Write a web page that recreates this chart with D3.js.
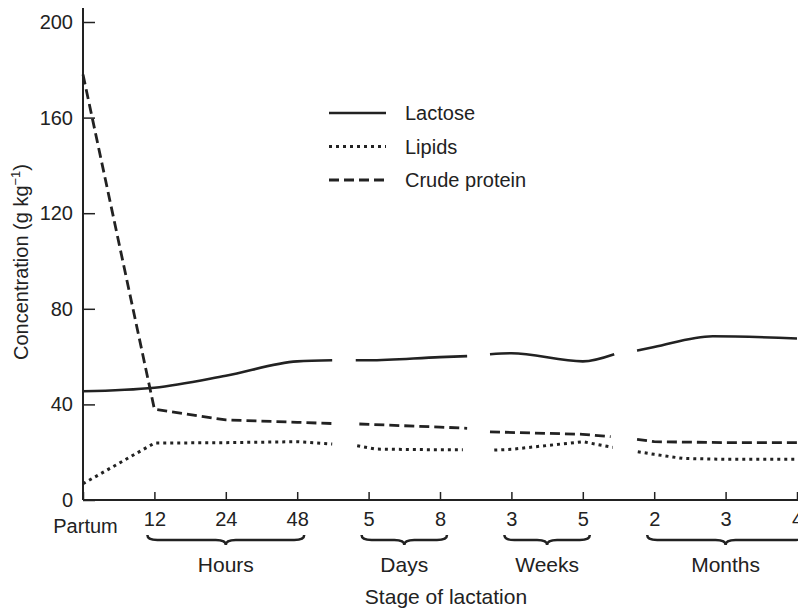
<!DOCTYPE html>
<html>
<head>
<meta charset="utf-8">
<script src="https://cdn.jsdelivr.net/npm/d3@7"></script>
<style>
  body { margin: 0; background: #fff; }
  text { font-family: "Liberation Sans", Arial, sans-serif; fill: #222; }
</style>
</head>
<body>
<script>
// DATA
var categories = ["Partum", "12", "24", "48", "5", "8", "3", "5", "2", "3", "4"];
var groupNames = ["Hours", "Days", "Weeks", "Months"];
var groupSpans = [[1, 3], [4, 5], [6, 7], [8, 10]];
var yTicks = [0, 40, 80, 120, 160, 200];
var seriesNames = ["Lactose", "Lipids", "Crude protein"];

// each series is a list of broken segments: [category position, g/kg]
var lactose = [
    [[0, 45.5], [1, 47], [2, 52], [3, 58], [3.49, 58.5]],
    [[3.82, 58.5], [4, 58.5], [5, 59.8], [5.38, 60.2]],
    [[5.70, 61], [6, 61.4], [7, 58], [7.44, 61]],
    [[7.76, 62.5], [8, 64], [8.82, 68.5], [10, 67.6]]
];
var lipids = [
    [[0, 6.8], [1, 23.8], [2, 24], [3, 24.4], [3.49, 23.4]],
    [[3.84, 22.7], [4.1, 21.3], [5, 21], [5.32, 21]],
    [[5.76, 20.9], [6, 21.2], [7, 24.4], [7.42, 22]],
    [[7.77, 20.2], [8, 19.1], [8.4, 17.4], [9, 17], [10, 17]]
];
var crudeProtein = [
    [[0, 178], [1, 38], [2, 33.5], [3, 32.5], [3.49, 32]],
    [[3.87, 31.8], [5, 30.5], [5.38, 30]],
    [[5.70, 28.5], [7, 27.5], [7.39, 26.5]],
    [[7.76, 25.4], [8, 24.4], [9, 24], [10, 24]]
];

// D3
var svg = d3.select("body")
    .append("svg")
    .attr("width", 798)
    .attr("height", 610);

const margin = {top: 22, left: 83, bottom: 110};
const plotW = 714;

const xScale = d3.scaleLinear()
    .domain([0, categories.length - 1])
    .range([margin.left, margin.left + plotW]);

const yScale = d3.scaleLinear()
    .domain([0, 200])
    .range([500, margin.top]);

const ink = "#222";

// y axis
const yAx = svg.append("g")
    .attr("transform", "translate(" + margin.left + ",0)")
    .call(d3.axisLeft(yScale).tickValues(yTicks).tickSizeInner(-12).tickSizeOuter(0).tickPadding(10));
yAx.select(".domain").remove();
yAx.selectAll("line").attr("stroke", ink).attr("stroke-width", 1.5);
yAx.selectAll("text").attr("font-size", 20).style("font-family", "Liberation Sans, Arial, sans-serif").attr("fill", ink);
svg.append("line")
    .attr("x1", margin.left).attr("x2", margin.left)
    .attr("y1", 500).attr("y2", 8)
    .attr("stroke", ink).attr("stroke-width", 2);

// x axis
const xAx = svg.append("g")
    .attr("transform", "translate(0,500)")
    .call(d3.axisBottom(xScale).tickValues(d3.range(categories.length))
        .tickFormat(function(i){ return categories[i]; })
        .tickSizeInner(-8).tickSizeOuter(0).tickPadding(12));
xAx.select(".domain").attr("stroke", ink).attr("stroke-width", 2)
    .attr("d", "M" + margin.left + ",0H798");
xAx.selectAll("line").attr("stroke", ink).attr("stroke-width", 1.5);
xAx.selectAll("text").attr("font-size", 20).style("font-family", "Liberation Sans, Arial, sans-serif").attr("fill", ink);
xAx.selectAll(".tick").filter(function(d){ return d === 0; })
    .select("text").attr("dx", 2).attr("y", 19);

// group braces
function brace(x0, x1, y0) {
    var xm = (x0 + x1) / 2, h = 5;
    return "M" + x0 + "," + y0 +
        " Q" + x0 + "," + (y0 + h) + " " + (x0 + 2 * h) + "," + (y0 + h) +
        " L" + (xm - 2 * h) + "," + (y0 + h) +
        " Q" + xm + "," + (y0 + h) + " " + xm + "," + (y0 + 2 * h) +
        " Q" + xm + "," + (y0 + h) + " " + (xm + 2 * h) + "," + (y0 + h) +
        " L" + (x1 - 2 * h) + "," + (y0 + h) +
        " Q" + x1 + "," + (y0 + h) + " " + x1 + "," + y0;
}
svg.selectAll(".brace").data(groupSpans)
    .enter().append("path")
    .attr("d", d => brace(xScale(d[0]) - 7, xScale(d[1]) + 7, 535))
    .attr("fill", "none").attr("stroke", ink).attr("stroke-width", 2.5);
svg.selectAll(".grp").data(groupSpans)
    .enter().append("text")
    .attr("x", d => (xScale(d[0]) + xScale(d[1])) / 2)
    .attr("y", 572)
    .attr("text-anchor", "middle").attr("font-size", 21)
    .text((d, i) => groupNames[i]);

// axis titles
svg.append("text")
    .attr("x", 446).attr("y", 604)
    .attr("text-anchor", "middle").attr("font-size", 21)
    .text("Stage of lactation");
const yt = svg.append("text")
    .attr("transform", "translate(28,262) rotate(-90)")
    .attr("text-anchor", "middle").attr("font-size", 20);
yt.append("tspan").text("Concentration (g kg");
yt.append("tspan").attr("font-size", 13).attr("dy", -8).text("\u22121");
yt.append("tspan").attr("dy", 8).text(")");

// lines
const styles = [
    {data: lactose, dash: null, w: 2.6, curve: d3.curveMonotoneX},
    {data: lipids, dash: "3,4", w: 3, curve: d3.curveLinear},
    {data: crudeProtein, dash: "10,5", w: 2.8, curve: d3.curveLinear}
];

styles.forEach(function(s) {
    const line = d3.line()
        .x(d => xScale(d[0]))
        .y(d => yScale(d[1]))
        .curve(s.curve);
    svg.append("g").selectAll("path").data(s.data)
        .enter().append("path")
        .attr("d", line)
        .attr("fill", "none")
        .attr("stroke", ink)
        .attr("stroke-width", s.w)
        .attr("stroke-dasharray", s.dash);
});

// legend
const lg = svg.append("g").attr("transform", "translate(329,113)");
seriesNames.forEach(function(name, i) {
    lg.append("line")
        .attr("x1", 0).attr("x2", 57)
        .attr("y1", i * 33.5).attr("y2", i * 33.5)
        .attr("stroke", ink).attr("stroke-width", styles[i].w)
        .attr("stroke-dasharray", styles[i].dash);
    lg.append("text")
        .attr("x", 76).attr("y", i * 33.5 + 7)
        .attr("font-size", 20)
        .text(name);
});
</script>
</body>
</html>
